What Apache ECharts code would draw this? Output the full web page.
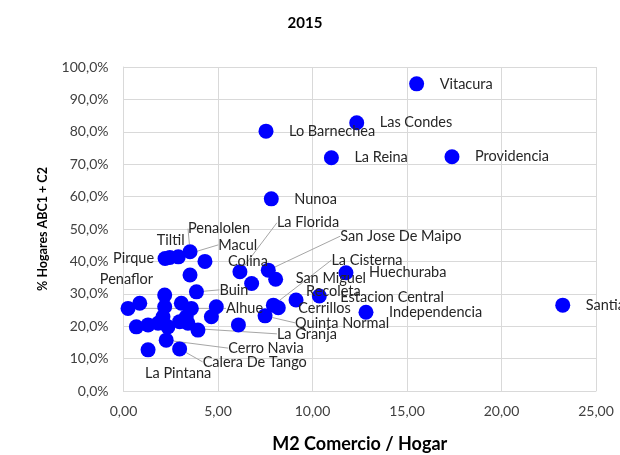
<!DOCTYPE html>
<html><head><meta charset="utf-8">
<script src="https://cdn.jsdelivr.net/npm/echarts@6/dist/echarts.min.js"></script>
<style>html,body{margin:0;padding:0;background:#fff;overflow:hidden}#c{width:620px;height:455px}</style>
</head><body><div id="c"></div>
<script>
// ---- data ----
const titleText = '2015';
const xAxisName = 'M2 Comercio / Hogar';
const yAxisName = '% Hogares ABC1 + C2';
const names = ['Vitacura','Las Condes','Lo Barnechea','La Reina','Providencia','Nunoa','Santiago','Huechuraba',
  'Independencia','Estacion Central','Recoleta','San Miguel','La Cisterna','Cerrillos','San Jose De Maipo',
  'Quinta Normal','La Florida','Colina','Penalolen','Macul','Tiltil','Pirque','Penaflor','Buin','Alhue',
  'La Granja','Cerro Navia','Calera De Tango','La Pintana',
  '','','','','','','','','','','','','','','','','',''];
const m2 = [15.51,12.34,7.54,11.00,17.38,7.82,23.24,11.77,
  12.83,10.36,9.13,8.05,7.93,8.19,7.66,
  7.49,6.16,4.31,3.52,2.90,2.45,2.20,3.52,3.86,0.24,
  2.35,2.26,2.97,1.30,
  0.86,2.18,2.18,2.09,3.06,3.59,4.65,4.91,3.32,0.68,1.30,1.83,2.97,3.41,3.94,6.08,6.78];
const pct = [94.8,82.8,80.2,72.0,72.3,59.3,26.5,36.5,
  24.3,29.3,28.1,34.5,26.5,25.7,37.3,
  23.2,36.8,40.0,43.0,41.4,41.2,40.9,35.8,30.6,25.5,
  19.8,15.7,13.0,12.7,
  27.1,29.6,26.0,22.9,27.1,25.5,22.9,26.0,22.9,19.8,20.4,20.9,21.4,20.9,18.8,20.4,33.2];
const xTicks = {min:0, max:25, step:5};
const yTicks = {min:0, max:100, step:10};

// ---- label layout: [dx, dy, align, leader] ; leader = [anchorDx, anchorDy, horizontalLength] from label left-middle ----
const DEF = [23, 0, 'left', null];
const L = [-3, 0, 13];
const labelSpec = {
  'La Florida': [37, -49, 'left', L],
  'San Jose De Maipo': [72, -34, 'left', L],
  'La Cisterna': [58, -45, 'left', L],
  'San Miguel': [20, -1, 'left', null],
  'Recoleta': [10, -9, 'left', null],
  'Estacion Central': [21, 1, 'left', null],
  'Cerrillos': [20, 1, 'left', null],
  'Quinta Normal': [30, 7, 'left', [-3, -2, 8]],
  'La Granja': [109, 7, 'left', [-3, 0, 8]],
  'Cerro Navia': [62, 8, 'left', L],
  'Calera De Tango': [23, 13, 'left', [-3, 0, 20]],
  'La Pintana': [-3, 23, 'left', null],
  'Alhue': [98, 0, 'left', [-3, 0, 8]],
  'Buin': [23, -2, 'left', [-3, 0, 10]],
  'Penalolen': [-2, -23, 'left', [30, 8, 20]],
  'Macul': [40, -12, 'left', [-3, -1, 16]],
  'Tiltil': [-13, -17, 'left', null],
  'Pirque': [-11, 0, 'right', null],
  'Penaflor': [-37, 4, 'right', null]
};

const FONT = 'Lato, "Open Sans", sans-serif';
const fmtPct = v => v.toFixed(1).replace('.', ',') + '%';
const fmtX = v => v.toFixed(2).replace('.', ',');

const data = names.map((n, i) => ({
  name: n,
  value: [m2[i], pct[i]],
  label: {show: n !== ''},
  labelLine: {show: !!(labelSpec[n] && labelSpec[n][3])}
}));

const chart = echarts.init(document.getElementById('c'), null, {renderer: 'canvas'});
chart.setOption({
  animation: false,
  backgroundColor: '#ffffff',
  title: {
    text: titleText, left: 300, top: 11, textAlign: 'center',
    textStyle: {fontFamily: FONT, fontSize: 15, fontWeight: 'bold', color: '#000'}
  },
  grid: {left: 123.5, right: 24, top: 67, bottom: 64, containLabel: false, outerBoundsMode: 'none'},
  xAxis: {
    type: 'value', min: xTicks.min, max: xTicks.max, interval: xTicks.step,
    name: xAxisName, nameLocation: 'middle', nameGap: 44,
    nameTextStyle: {fontFamily: FONT, fontSize: 18, fontWeight: 'bold', color: '#000', verticalAlign: 'top'},
    axisLine: {show: true, lineStyle: {color: '#d9d9d9', width: 1}},
    axisTick: {show: false},
    axisLabel: {formatter: fmtX, fontFamily: FONT, fontSize: 14, color: '#404040', margin: 13},
    splitLine: {show: true, lineStyle: {color: '#d9d9d9', width: 1}}
  },
  yAxis: {
    type: 'value', min: yTicks.min, max: yTicks.max, interval: yTicks.step,
    name: yAxisName, nameLocation: 'middle', nameGap: 74, nameRotate: 90,
    nameTextStyle: {fontFamily: FONT, fontSize: 12.5, fontWeight: 'bold', color: '#000'},
    axisLine: {show: true, lineStyle: {color: '#d9d9d9', width: 1}},
    axisTick: {show: false},
    axisLabel: {formatter: fmtPct, fontFamily: FONT, fontSize: 14, color: '#404040', margin: 15},
    splitLine: {show: true, lineStyle: {color: '#d9d9d9', width: 1}}
  },
  series: [{
    type: 'scatter',
    symbolSize: 15,
    itemStyle: {color: '#0000ff', opacity: 1},
    data: data,
    label: {
      show: true, position: 'right', formatter: '{b}',
      fontFamily: FONT, fontSize: 14.5, color: '#262626'
    },
    labelLine: {show: false, lineStyle: {color: '#a6a6a6', width: 1}},
    labelLayout: function (p) {
      const n = names[p.dataIndex];
      const s = labelSpec[n] || DEF;
      const cx = p.rect.x + p.rect.width / 2;
      const cy = p.rect.y + p.rect.height / 2;
      const lx = cx + s[0], ly = cy + s[1];
      const out = {x: lx, y: ly, align: s[2], verticalAlign: 'middle'};
      if (s[3]) {
        const a = s[3];
        const px = lx + a[0], py = ly + a[1];
        out.labelLinePoints = [[px, py], [px - a[2], py], [cx, cy]];
      }
      return out;
    },
    emphasis: {disabled: true}
  }]
});
</script></body></html>
